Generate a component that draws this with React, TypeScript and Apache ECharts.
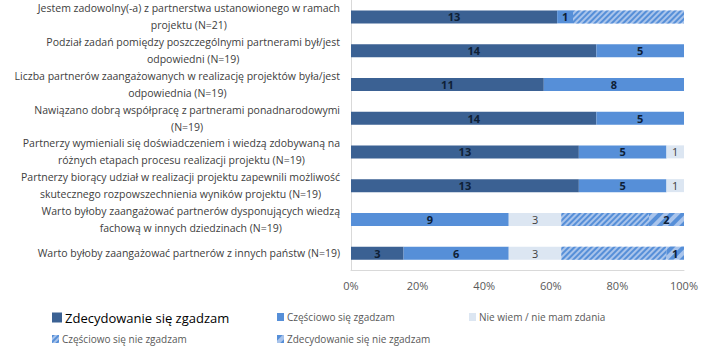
import React, { useEffect, useRef } from "react";
import * as echarts from "echarts";

const categories = [
  "Jestem zadowolny(-a) z partnerstwa ustanowionego w ramach\nprojektu (N=21)",
  "Podział zadań pomiędzy poszczególnymi partnerami był/jest\nodpowiedni (N=19)",
  "Liczba partnerów zaangażowanych w realizację projektów była/jest\nodpowiednia (N=19)",
  "Nawiązano dobrą współpracę z partnerami ponadnarodowymi\n(N=19)",
  "Partnerzy wymieniali się doświadczeniem i wiedzą zdobywaną na\nróżnych etapach procesu realizacji projektu (N=19)",
  "Partnerzy biorący udział w realizacji projektu zapewnili możliwość\nskutecznego rozpowszechnienia wyników projektu (N=19)",
  "Warto byłoby zaangażować partnerów dysponujących wiedzą\nfachową w innych dziedzinach (N=19)",
  "Warto byłoby zaangażować partnerów z innych państw (N=19)",
];

const seriesNames = [
  "Zdecydowanie się zgadzam",
  "Częściowo się zgadzam",
  "Nie wiem / nie mam zdania",
  "Częściowo się nie zgadzam",
  "Zdecydowanie się nie zgadzam",
];

const stronglyAgree = [13, 14, 11, 14, 13, 13, 0, 3];
const partlyAgree = [1, 5, 8, 5, 5, 5, 9, 6];
const dontKnow = [0, 0, 0, 0, 1, 1, 3, 3];
const partlyDisagree = [7, 0, 0, 0, 0, 0, 5, 6];
const stronglyDisagree = [0, 0, 0, 0, 0, 0, 2, 1];

const showLabels = [true, true, true, false, true];

const xTicks = [0, 20, 40, 60, 80, 100];

const FONT = "'Open Sans', 'Noto Sans', sans-serif";

export default function App() {
  const ref = useRef<HTMLDivElement>(null);
  useEffect(() => {
    if (!ref.current) return;
    const chart = echarts.init(ref.current, null, { renderer: "svg" });
    const counts = [stronglyAgree, partlyAgree, dontKnow, partlyDisagree, stronglyDisagree];
    const totals = categories.map((_, i) => counts.reduce((s, arr) => s + arr[i], 0));
    const colors = ["#3B6193", "#568FD8", "#DCE6F2", "#A9C4EB", "#A9C4EB"];
    const decals: any[] = [
      null,
      null,
      null,
      {
        symbol: "rect",
        symbolSize: 1,
        dashArrayX: [1, 0],
        dashArrayY: [2, 2],
        rotation: -Math.PI / 4,
        color: "#568FD8",
      },
      {
        symbol: "rect",
        symbolSize: 1,
        dashArrayX: [1, 0],
        dashArrayY: [4, 4],
        rotation: -Math.PI / 4,
        color: "#568FD8",
      },
    ];
    const labelColors = ["#0E2036", "#0E2036", "#404040", "#0E2036", "#0E2036"];
    const labelWeights = ["bold", "bold", "normal", "bold", "bold"];

    const series = seriesNames.map((name, si) => ({
      name,
      type: "bar",
      stack: "total",
      barWidth: 13,
      itemStyle: decals[si]
        ? { color: colors[si], decal: decals[si] }
        : { color: colors[si] },
      label: {
        show: showLabels[si],
        position: "inside",
        color: labelColors[si],
        fontWeight: labelWeights[si],
        fontSize: 11,
        fontFamily: FONT,
        formatter: (p: any) => {
          const c = counts[si][p.dataIndex];
          return c > 0 ? String(c) : "";
        },
      },
      data: counts[si].map((c, i) => (c / totals[i]) * 100),
    }));

    const legendBase = (name: string, left: number, top: number, big: boolean) => ({
      data: [name],
      left,
      top,
      orient: "horizontal",
      itemWidth: big ? 10 : 7,
      itemHeight: big ? 10 : 8,
      itemGap: 4,
      padding: 0,
      selectedMode: false,
      icon: "rect",
      textStyle: {
        fontFamily: FONT,
        fontSize: big ? 13 : 10,
        color: big ? "#000000" : "#595959",
        padding: [0, 0, 0, -2],
      },
    });

    chart.setOption({
      animation: false,
      aria: { enabled: false, decal: { show: false } },
      grid: { left: 351, right: 27, top: 0, bottom: 89, containLabel: false },
      xAxis: {
        type: "value",
        min: xTicks[0],
        max: xTicks[xTicks.length - 1],
        interval: 20,
        axisLine: { show: true, lineStyle: { color: "#D9D9D9" } },
        axisTick: { show: false },
        splitLine: { show: false },
        axisLabel: {
          formatter: "{value}%",
          color: "#595959",
          fontSize: 11,
          fontFamily: FONT,
          margin: 10,
        },
      },
      yAxis: {
        type: "category",
        inverse: true,
        data: categories,
        axisLine: { show: true, lineStyle: { color: "#D9D9D9" } },
        axisTick: { show: false },
        axisLabel: {
          margin: 11,
          align: "right",
          formatter: (v: string) =>
            v
              .split("\n")
              .map((l) => `{c|${l}}`)
              .join("\n"),
          rich: {
            c: {
              align: "center",
              fontSize: 10.5,
              lineHeight: 17,
              color: "#404040",
              fontFamily: FONT,
            },
          },
        },
      },
      legend: [
        legendBase(seriesNames[0], 52, 311, true),
        legendBase(seriesNames[1], 277, 312, false),
        legendBase(seriesNames[2], 469, 312, false),
        legendBase(seriesNames[3], 52, 334, false),
        legendBase(seriesNames[4], 277, 334, false),
      ],
      series,
    });
    return () => chart.dispose();
  }, []);
  return <div ref={ref} style={{ width: 711, height: 359, position: "absolute", left: 0, top: 0 }} />;
}
